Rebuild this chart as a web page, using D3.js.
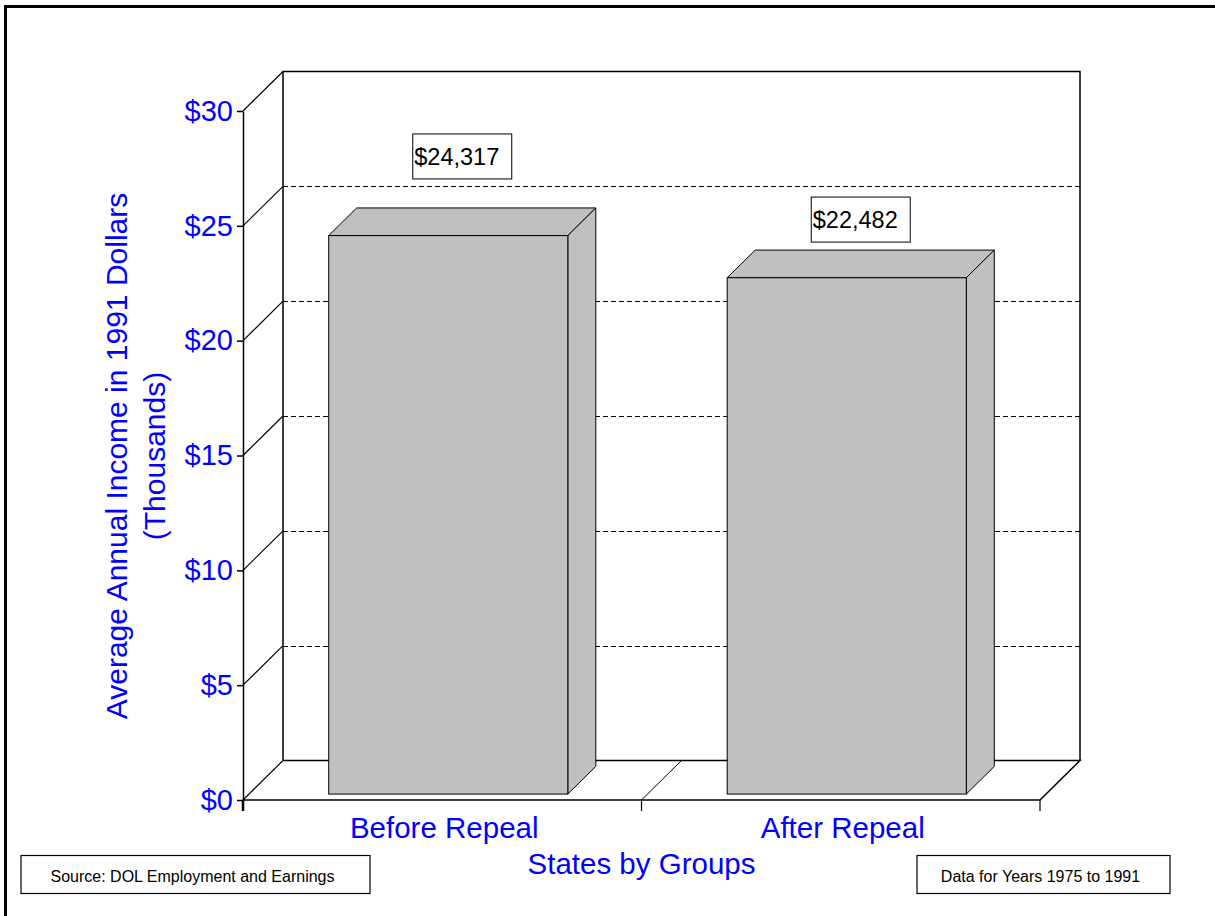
<!DOCTYPE html>
<html>
<head>
<meta charset="utf-8">
<script src="https://cdn.jsdelivr.net/npm/d3@7"></script>
<style>
  body { margin: 0; background: #fff; }
  svg { display: block; font-family: "Liberation Sans", Arial, sans-serif; }
  .blue { fill: #0000ff; }
</style>
</head>
<body>
<svg id="svg" width="1215" height="916"></svg>
<script>
// data (thousands of 1991 dollars)
const categories = ["Before Repeal", "After Repeal"];
const incomes = [24.317, 22.482];
const yTicks = [0, 5, 10, 15, 20, 25, 30];

// layout constants
const W = 1215, H = 916;
const DX = 40, DY = -39.5;       // depth vector of the 3d frame
const barF0 = 0.15, barF1 = 0.85; // bar depth range (fraction of depth)
const labelLift = [29, 8];        // gap between bar top and its value box

const svg = d3.select("#svg");

const xScale = d3.scaleBand()
  .domain(categories)
  .range([243, 1040])
  .paddingInner(0)
  .paddingOuter(0);

const yScale = d3.scaleLinear()
  .domain([0, 30])
  .range([800, 111]);

const x0 = xScale.range()[0], x1 = xScale.range()[1];
const yBottom = yScale(0), yTop = yScale(30);

// outer border (left + top only)
svg.append("path")
  .attr("d", `M5.5,${H} L5.5,6.5 L${W},6.5`)
  .attr("fill", "none")
  .attr("stroke", "#000")
  .attr("stroke-width", 3);

const frame = svg.append("g").attr("fill", "none").attr("stroke", "#000");

// back wall gridlines
frame.selectAll(".grid")
  .data(yTicks.filter(d => d > 0 && d < 30))
  .enter()
  .append("line")
  .attr("x1", x0 + DX)
  .attr("x2", x1 + DX)
  .attr("y1", d => Math.round(yScale(d) + DY) + 0.5)
  .attr("y2", d => Math.round(yScale(d) + DY) + 0.5)
  .attr("stroke-width", 1)
  .attr("shape-rendering", "crispEdges")
  .attr("stroke-dasharray", "5,3");

// back wall outline
frame.append("path")
  .attr("d", `M${x0 + DX},${yBottom + DY} L${x0 + DX},${yTop + DY} L${x1 + DX},${yTop + DY} L${x1 + DX},${yBottom + DY}`)
  .attr("stroke-width", 1.5);

// floor
frame.append("path")
  .attr("d", `M${x0 + DX},${yBottom + DY} L${x1 + DX},${yBottom + DY} L${x1},${yBottom} L${x0},${yBottom}`)
  .attr("stroke-width", 1.5);

// category separators on the floor
const seps = categories.slice(1).map(c => xScale(c));
frame.selectAll(".sep")
  .data(seps)
  .enter()
  .append("line")
  .attr("x1", d => d)
  .attr("y1", yBottom)
  .attr("x2", d => d + DX)
  .attr("y2", yBottom + DY)
  .attr("stroke-width", 1);

// bottom ticks at band edges
frame.selectAll(".xtick")
  .data(seps.concat([x1]))
  .enter()
  .append("line")
  .attr("x1", d => d)
  .attr("x2", d => d)
  .attr("y1", yBottom)
  .attr("y2", yBottom + 11)
  .attr("stroke-width", 1.2);

// left wall diagonals
frame.selectAll(".diag")
  .data(yTicks)
  .enter()
  .append("line")
  .attr("x1", x0)
  .attr("y1", d => yScale(d))
  .attr("x2", x0 + DX)
  .attr("y2", d => yScale(d) + DY)
  .attr("stroke-width", 1.2);

// bars
const bw = xScale.bandwidth() * 0.6;
const bars = svg.append("g")
  .selectAll(".bar")
  .data(categories.map((c, i) => ({ c: c, v: incomes[i], i: i })))
  .enter()
  .append("g")
  .attr("class", "bar")
  .attr("fill", "#c0c0c0")
  .attr("stroke", "#000")
  .attr("stroke-width", 1);

function barGeom(d) {
  const bx = xScale(d.c) + (xScale.bandwidth() - bw) / 2;
  const fx = bx + DX * barF0, fy = yScale(d.v) + DY * barF0;
  const fb = yBottom + DY * barF0;
  const ddx = DX * (barF1 - barF0), ddy = DY * (barF1 - barF0);
  return { fx, fy, fb, ddx, ddy };
}

// top face
bars.append("path")
  .attr("d", d => {
    const g = barGeom(d);
    return `M${g.fx},${g.fy} L${g.fx + g.ddx},${g.fy + g.ddy} L${g.fx + bw + g.ddx},${g.fy + g.ddy} L${g.fx + bw},${g.fy} Z`;
  });
// side face
bars.append("path")
  .attr("d", d => {
    const g = barGeom(d);
    return `M${g.fx + bw},${g.fy} L${g.fx + bw + g.ddx},${g.fy + g.ddy} L${g.fx + bw + g.ddx},${g.fb + g.ddy} L${g.fx + bw},${g.fb} Z`;
  });
// front face
bars.append("rect")
  .attr("x", d => barGeom(d).fx)
  .attr("y", d => barGeom(d).fy)
  .attr("width", bw)
  .attr("height", d => barGeom(d).fb - barGeom(d).fy);

// value boxes
const fmt = v => "$" + d3.format(",")(Math.round(v * 1000));
const boxW = 99, boxH = 45;
const labels = svg.append("g")
  .selectAll(".vlabel")
  .data(categories.map((c, i) => ({ c: c, v: incomes[i], i: i })))
  .enter()
  .append("g")
  .attr("transform", d => {
    const cx = xScale(d.c) + xScale.bandwidth() / 2 + DX * (barF0 + barF1) / 2;
    const by = yScale(d.v) + DY * barF1 - labelLift[d.i];
    return `translate(${cx - boxW / 2},${by - boxH})`;
  });
labels.append("rect")
  .attr("width", boxW)
  .attr("height", boxH)
  .attr("fill", "#fff")
  .attr("stroke", "#000")
  .attr("stroke-width", 1);
labels.append("text")
  .attr("x", 1.5)
  .attr("y", 31)
  .style("font-size", "23.5px")
  .text(d => fmt(d.v));

// front y axis
const yAxis = svg.append("g")
  .attr("transform", `translate(${x0},0)`)
  .call(d3.axisLeft(yScale)
    .tickValues(yTicks)
    .tickSize(6)
    .tickSizeOuter(0)
    .tickPadding(4)
    .tickFormat(d => "$" + d));
yAxis.select(".domain").attr("stroke-width", 1.5);
yAxis.selectAll(".tick line").attr("stroke-width", 1.5);
yAxis.selectAll(".tick text")
  .attr("class", "blue")
  .attr("fill", null)
  .style("font-family", "'Liberation Sans', Arial, sans-serif")
  .style("font-size", "29px");
svg.append("line")
  .attr("x1", x0).attr("x2", x0)
  .attr("y1", yBottom).attr("y2", yBottom + 11)
  .attr("stroke", "#000")
  .attr("stroke-width", 2.5);

// category labels
svg.selectAll(".xlabel")
  .data(categories)
  .enter()
  .append("text")
  .attr("class", "blue")
  .attr("x", d => xScale(d) + xScale.bandwidth() / 2 + 2)
  .attr("y", 838)
  .attr("text-anchor", "middle")
  .style("font-size", "29.5px")
  .text(d => d);

svg.append("text")
  .attr("class", "blue")
  .attr("x", (x0 + x1) / 2)
  .attr("y", 874)
  .attr("text-anchor", "middle")
  .style("font-size", "29.5px")
  .text("States by Groups");

// y axis title
const yTitle = svg.append("text")
  .attr("class", "blue")
  .attr("transform", "translate(127,456) rotate(-90)")
  .attr("text-anchor", "middle")
  .style("font-size", "30px");
yTitle.append("tspan").attr("x", 0).attr("dy", 0).text("Average Annual Income in 1991 Dollars");
yTitle.append("tspan").attr("x", 0).attr("dy", 38).text("(Thousands)");

// footnote boxes
const notes = [
  { text: "Source: DOL Employment and Earnings", x: 21, w: 349 },
  { text: "Data for Years 1975 to 1991", x: 917, w: 253 }
];
const note = svg.selectAll(".note")
  .data(notes)
  .enter()
  .append("g")
  .attr("transform", d => `translate(${d.x},855.5)`);
note.append("rect")
  .attr("width", d => d.w)
  .attr("height", 38)
  .attr("fill", "#fff")
  .attr("stroke", "#000")
  .attr("stroke-width", 1.2);
note.append("text")
  .attr("x", d => d.w / 2 - 3)
  .attr("y", 26)
  .attr("text-anchor", "middle")
  .style("font-size", "16px")
  .text(d => d.text);
</script>
</body>
</html>
